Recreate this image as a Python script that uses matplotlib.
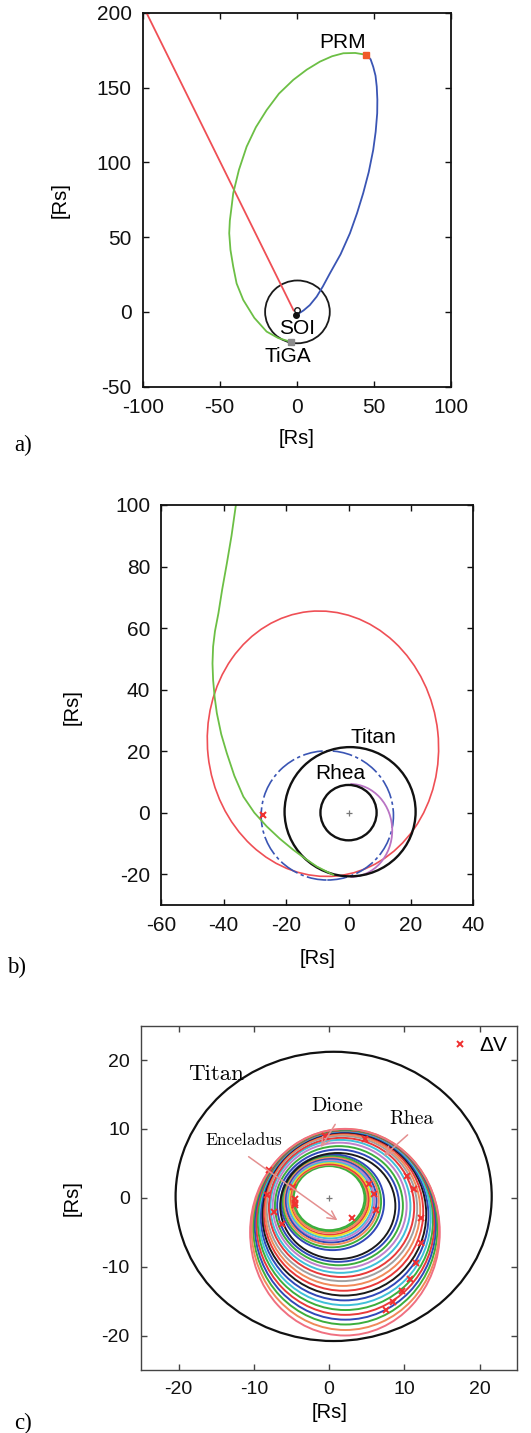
import numpy as np
import matplotlib
matplotlib.use('Agg')
import matplotlib.pyplot as plt
from matplotlib.patches import Circle, Ellipse, Arc

plt.rcParams['font.family'] = ['Liberation Sans', 'DejaVu Sans']
plt.rcParams['axes.unicode_minus'] = False

RED = '#ef4f55'
GREEN = '#6cbf45'
BLUE = '#3a55b4'
PURPLE = '#b974c4'

# ---- panel a : approach, SOI, PRM, TiGA ----
approach_x = [-97.5, -2.0]
approach_y = [200.0, 1.0]
green_a_x = [-4.0, -12.0, -19.5, -27.5, -34.7, -39.0, -41.2, -43.0, -43.8, -43.4, -42.3, -41.2,
             -37.5, -32.5, -26.5, -19.5, -11.5, -2.2, 6.5, 15.1, 23.0, 30.3, 38.0, 45.0]
green_a_y = [-20.0, -17.5, -13.2, -4.0, 8.0, 19.0, 30.3, 41.5, 52.6, 61.0, 70.0, 79.4,
             95.0, 110.5, 123.5, 135.0, 146.0, 155.2, 162.0, 167.4, 171.0, 173.0, 173.2, 172.0]
blue_a_x = [45.0, 48.0, 49.7, 51.2, 52.0, 52.4, 52.3, 51.3, 49.7, 46.8, 43.2, 39.2, 34.6,
            28.5, 21.6, 17.0, 13.0, 8.5, 4.5, 1.5, -0.5]
blue_a_y = [172.0, 169.0, 164.0, 158.0, 150.7, 142.0, 132.9, 120.5, 108.3, 93.5, 79.4, 66.0,
            52.6, 38.5, 25.8, 17.0, 10.2, 4.5, 1.0, -1.0, -2.0]
soi_center = (0.5, 0.0)
soi_radius = 21.0
prm_pt = (45.0, 172.0)
tiga_pt = (-4.0, -20.0)
soi_pt = (-0.5, -2.0)
saturn_pt = (0.5, 1.2)

# ---- panel b : capture orbits ----
green_b_x = [-35.8, -36.1, -37.5, -39.0, -40.5, -41.7, -42.8, -43.4, -43.6, -43.4, -42.9, -42.2,
             -40.8, -39.0, -36.6, -33.7, -30.2, -26.2, -22.0, -17.7, -13.8, -10.2, -7.3, -4.9]
green_b_y = [102.0, 100.0, 90.0, 81.0, 72.5, 64.8, 59.0, 54.0, 48.5, 43.1, 37.5, 32.3,
             25.5, 19.3, 12.0, 5.2, 0.0, -4.5, -8.5, -12.1, -15.0, -17.5, -19.0, -20.2]
red_b_center = (-8.2, 22.4)
red_b_width = 74.0
red_b_height = 86.4
red_b_angle = 6.0
blue_b_center = (-6.8, -0.9)
blue_b_width = 42.4
blue_b_height = 42.0
purple_b_center = (0.6, -5.8)
purple_b_width = 26.8
purple_b_height = 30.2
titan_b_center = (0.5, 0.3)
titan_radius = 21.0
rhea_radius = 9.0
dv_b = (-27.3, -0.7)

# ---- panel c : tour orbits (extents left, right, bottom, top) ----
orb_left = [-4.7, -4.9, -5.0, -5.2, -5.3, -5.5, -5.7, -5.8, -6.0, -6.2, -6.4, -6.5, -6.9, -7.2,
            -7.5, -7.8, -8.0, -8.3, -8.5, -8.7, -8.9, -9.1, -9.3, -9.5, -9.7, -9.9, -10.1, -10.3, -10.5]
orb_right = [4.7, 4.9, 5.1, 5.3, 5.5, 5.8, 6.0, 6.3, 6.6, 6.9, 7.3, 8.8, 9.3, 9.8,
             10.3, 10.8, 11.3, 11.7, 12.1, 12.5, 12.9, 13.2, 13.5, 13.8, 14.0, 14.2, 14.4, 14.6, 14.7]
orb_bottom = [-4.7, -4.9, -5.1, -5.4, -5.6, -5.9, -6.2, -6.5, -6.8, -7.2, -7.6, -8.9, -9.3, -9.8,
              -10.3, -10.9, -11.5, -12.1, -12.8, -13.5, -14.2, -14.9, -15.6, -16.3, -17.0, -17.7,
              -18.4, -19.2, -20.0]
orb_top = [4.6, 4.7, 4.8, 4.9, 5.1, 5.3, 5.5, 5.7, 5.9, 6.1, 6.3, 6.5, 7.0, 7.5,
           8.0, 8.4, 8.7, 9.0, 9.2, 9.4, 9.5, 9.6, 9.7, 9.8, 9.8, 9.9, 9.9, 10.0, 10.0]
orb_colors = ['#3cae3c', '#3cae3c', '#f08a5a', '#e83a3a', '#e8e030', '#40c0d8', '#c080cc',
              '#3048b8', '#f08a5a', '#3cae3c', '#3048b8', '#1a1a1a', '#3048b8', '#3cae3c',
              '#c080cc', '#40c0d8', '#e83a3a', '#a0a0a0', '#f08a5a', '#e83a3a', '#1a1a1a',
              '#3048b8', '#40c0d8', '#3cae3c', '#e83a3a', '#3048b8', '#3cae3c', '#f08a5a', '#f07080']
titan_c_center = (0.6, 0.2)
dv_x = [-0.56, 4.8, 10.4, 11.3, 5.3, 5.95, 6.2, 12.2, 12.2, 11.5, 10.7, 9.7, 8.5, 7.5, 3.0,
        -8.0, -8.2, -7.3, -6.3, -4.8, -4.6, -4.5, -4.6]
dv_y = [9.0, 8.5, 3.2, 1.3, 2.0, 0.6, -1.8, -2.9, -6.5, -9.4, -11.8, -13.5, -15.2, -16.3, -2.9,
        4.0, 0.4, -2.1, -3.8, 1.5, -0.2, -0.8, -1.1]


def style(ax, fs, col, lw):
    for s in ax.spines.values():
        s.set_color(col)
        s.set_linewidth(lw)
    ax.tick_params(direction='in', top=True, right=True, length=4.5, width=1.0,
                   colors=col, labelcolor='#111111', labelsize=fs, pad=8)


fig = plt.figure(figsize=(5.31, 14.33), dpi=100)

# panel a
ax_a = fig.add_axes([0.2687, 0.7302, 0.5800, 0.2608])
ax_a.plot(approach_x, approach_y, color=RED, lw=1.3)
ax_a.plot(green_a_x, green_a_y, color=GREEN, lw=1.3)
ax_a.plot(blue_a_x, blue_a_y, color=BLUE, lw=1.3)
ax_a.add_patch(Circle(soi_center, soi_radius, fill=False, ec='#1a1a1a', lw=1.3))
ax_a.plot(*saturn_pt, 'o', mfc='none', mec='#1a1a1a', ms=4, mew=1.0)
ax_a.plot(*soi_pt, 'o', color='#111111', ms=4)
ax_a.plot(*prm_pt, 's', color='#f05a28', ms=4)
ax_a.plot(*tiga_pt, 's', color='#8c8c8c', ms=4)
ax_a.text(30, 180, 'PRM', fontsize=15, ha='center', va='center')
ax_a.text(0.5, -11, 'SOI', fontsize=15, ha='center', va='center')
ax_a.text(-5.5, -30, 'TiGA', fontsize=15, ha='center', va='center')
ax_a.set_xlim(-100, 100)
ax_a.set_ylim(-50, 200)
ax_a.set_xticks([-100, -50, 0, 50, 100])
ax_a.set_yticks([-50, 0, 50, 100, 150, 200])
style(ax_a, 15, '#111111', 1.3)

# panel b
ax_b = fig.add_axes([0.3038, 0.3685, 0.5876, 0.2791])
ax_b.add_patch(Ellipse(red_b_center, red_b_width, red_b_height, angle=red_b_angle,
                       fill=False, ec=RED, lw=1.2))
ax_b.plot(green_b_x, green_b_y, color=GREEN, lw=1.3)
ax_b.add_patch(Ellipse(blue_b_center, blue_b_width, blue_b_height, fill=False, ec=BLUE,
                       lw=1.2, ls=(0, (12, 2, 2, 2))))
ax_b.add_patch(Arc(purple_b_center, purple_b_width, purple_b_height, theta1=-90, theta2=90,
                   ec=PURPLE, lw=1.3))
ax_b.add_patch(Circle(titan_b_center, titan_radius, fill=False, ec='#111111', lw=1.7))
ax_b.add_patch(Circle((0, 0), rhea_radius, fill=False, ec='#111111', lw=1.7))
ax_b.plot(0, 0, '+', color='#777777', ms=5, mew=0.9)
ax_b.plot(*dv_b, 'x', color='#f03030', ms=5, mew=1.5)
ax_b.text(7.9, 24.5, 'Titan', fontsize=15, ha='center', va='center')
ax_b.text(-2.7, 12.8, 'Rhea', fontsize=15, ha='center', va='center')
ax_b.set_xlim(-60, 40)
ax_b.set_ylim(-30, 100)
ax_b.set_xticks([-60, -40, -20, 0, 20, 40])
ax_b.set_yticks([-20, 0, 20, 40, 60, 80, 100])
style(ax_b, 15, '#111111', 1.3)

# panel c
ax_c = fig.add_axes([0.2655, 0.0440, 0.7087, 0.2403])
for l, r, b, t, c in zip(orb_left, orb_right, orb_bottom, orb_top, orb_colors):
    ax_c.add_patch(Ellipse(((l + r) / 2, (b + t) / 2), r - l, t - b, fill=False, ec=c,
                           lw=1.4))
ax_c.add_patch(Circle(titan_c_center, titan_radius, fill=False, ec='#111111', lw=1.6))
ax_c.plot(0, 0, '+', color='#777777', ms=5, mew=0.9)
arrow_kw = dict(arrowstyle='->', color='#e49090', lw=1.1, mutation_scale=15)
ax_c.annotate('', xy=(1.4, -3.5), xytext=(-11.0, 6.2), arrowprops=arrow_kw)
ax_c.annotate('', xy=(-1.3, 7.0), xytext=(1.0, 11.0), arrowprops=arrow_kw)
ax_c.annotate('', xy=(7.0, 5.8), xytext=(10.7, 9.4), arrowprops=arrow_kw)
ax_c.plot(dv_x, dv_y, 'x', color='#f03030', ms=5, mew=1.4, ls='none', label='ΔV')
ax_c.text(-15.0, 18.0, 'Titan', family='cmr10', fontsize=16.5, ha='center', va='center')
ax_c.text(1.1, 13.3, 'Dione', family='cmr10', fontsize=14.7, ha='center', va='center')
ax_c.text(11.0, 11.5, 'Rhea', family='cmr10', fontsize=14.3, ha='center', va='center')
ax_c.text(-11.4, 8.3, 'Enceladus', family='cmr10', fontsize=12.5, ha='center', va='center')
ax_c.legend(loc='upper right', frameon=False, fontsize=15, handlelength=1.0,
            handletextpad=0.4, borderaxespad=0.1)
ax_c.set_xlim(-25, 25)
ax_c.set_ylim(-25, 25)
ax_c.set_xticks([-20, -10, 0, 10, 20])
ax_c.set_yticks([-20, -10, 0, 10, 20])
style(ax_c, 14, '#444444', 1.0)

# axis labels and panel letters
for x, y in [(297, 438), (318, 958), (330, 1413)]:
    fig.text(x / 531, 1 - y / 1433, '[Rs]', fontsize=14.5, ha='center', va='center')
for x, y in [(60, 200), (72, 707), (72, 1198)]:
    fig.text(x / 531, 1 - y / 1433, '[Rs]', fontsize=14.5, ha='center', va='center',
             rotation=90)
for x, y, s in [(23, 445, 'a)'), (17, 967, 'b)'), (23, 1423, 'c)')]:
    fig.text(x / 531, 1 - y / 1433, s, family='Liberation Serif', fontsize=16.5,
             ha='center', va='center')

fig.savefig('out.png', dpi=100)
